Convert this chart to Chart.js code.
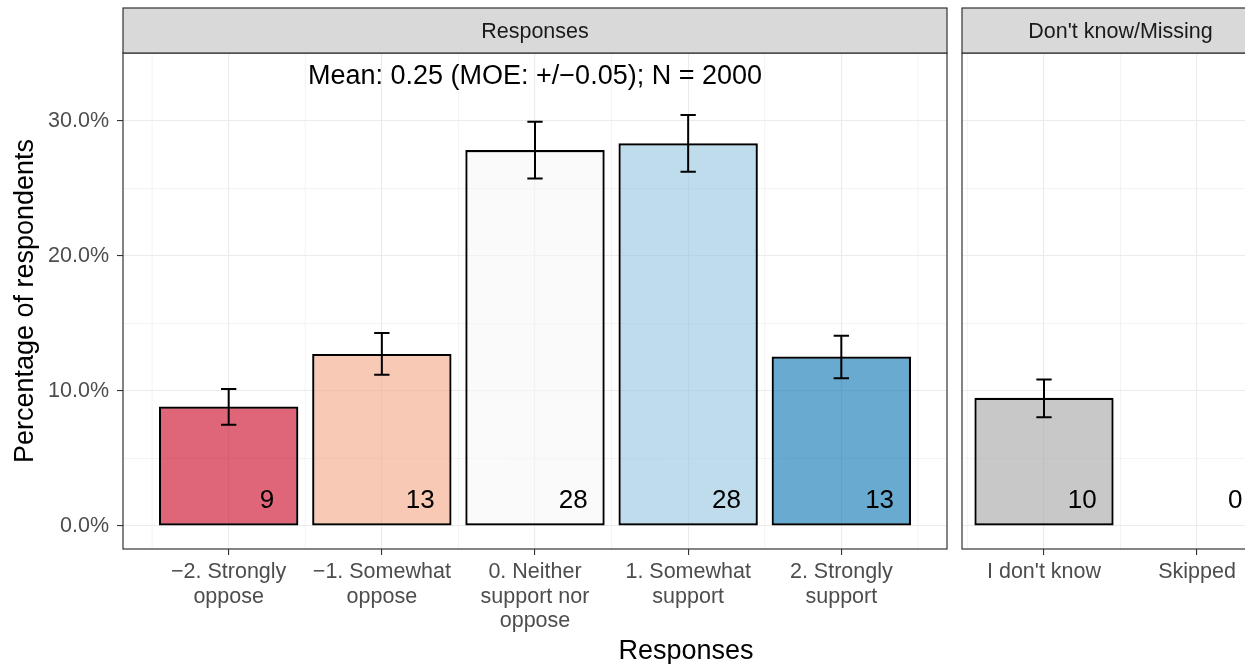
<!DOCTYPE html>
<html>
<head>
<meta charset="utf-8">
<script src="https://cdn.jsdelivr.net/npm/chart.js@4.4.1/dist/chart.umd.min.js"></script>
<style>
  html, body { margin: 0; padding: 0; background: #fff; width: 1245px; height: 664px; overflow: hidden; }
  canvas { position: absolute; top: 0; }
  #left { left: 0; }
  #right { left: 955px; }
  #xtitle { position: absolute; left: 0; width: 1372px; top: 634px; text-align: center; line-height: 32px;
            font-size: 27px; font-family: "Liberation Sans", Arial, sans-serif; color: #000; }
</style>
</head>
<body>
<canvas id="left" width="955" height="664"></canvas>
<canvas id="right" width="330" height="664"></canvas>
<div id="xtitle">Responses</div>
<script>
// values (percent of respondents)
var respLabels = [["\u22122. Strongly", "oppose"], ["\u22121. Somewhat", "oppose"],
                  ["0. Neither", "support nor", "oppose"], ["1. Somewhat", "support"], ["2. Strongly", "support"]];
var respPct   = [8.85, 12.75, 27.85, 28.35, 12.55];
var respLow   = [7.5, 11.2, 25.75, 26.25, 10.95];
var respHigh  = [10.15, 14.3, 29.95, 30.45, 14.1];
var respShown = [9, 13, 28, 28, 13];

var missLabels = ["I don't know", "Skipped"];
var missPct    = [9.5, 0];
var missLow    = [8.05, null];
var missHigh   = [10.85, null];
var missShown  = [10, 0];

var yTicks = [0, 10, 20, 30];
var meanText = "Mean: 0.25 (MOE: +/\u22120.05); N = 2000";

var respColors = ['rgba(202,0,32,0.6)', 'rgba(244,165,130,0.6)', 'rgba(247,247,247,0.6)',
                  'rgba(146,197,222,0.6)', 'rgba(5,113,176,0.6)'];
var missColors = ['rgba(163,163,163,0.6)', 'rgba(163,163,163,0.6)'];

var FONT = '"Liberation Sans", Arial, sans-serif';

const panelPlugin = {
  id: 'panel',
  beforeDatasetsDraw: (chart) => {
    // minor grid lines half way between the major ones
    const {ctx, chartArea: a, scales: {x, y}} = chart;
    ctx.save();
    ctx.strokeStyle = '#ebebeb';
    ctx.lineWidth = 0.6;
    for (let v = Math.ceil(x.min * 2) / 2; v <= x.max; v += 0.5) {
      if (Number.isInteger(v)) continue;
      const px = x.getPixelForValue(v);
      ctx.beginPath(); ctx.moveTo(px, a.top); ctx.lineTo(px, a.bottom); ctx.stroke();
    }
    for (let v = 5; v <= y.max; v += 10) {
      const py = y.getPixelForValue(v);
      ctx.beginPath(); ctx.moveTo(a.left, py); ctx.lineTo(a.right, py); ctx.stroke();
    }
    ctx.restore();
  },
  afterDatasetsDraw: (chart, args, opts) => {
    const {ctx, chartArea: a, scales: {x, y}} = chart;
    ctx.save();
    // error bars
    ctx.strokeStyle = '#000';
    ctx.lineWidth = 2;
    const cap = x.getPixelForValue(0.05) - x.getPixelForValue(0);
    opts.low.forEach((lo, i) => {
      if (lo == null) return;
      const px = x.getPixelForValue(i);
      const y1 = y.getPixelForValue(lo), y2 = y.getPixelForValue(opts.high[i]);
      ctx.beginPath();
      ctx.moveTo(px, y1); ctx.lineTo(px, y2);
      ctx.moveTo(px - cap, y1); ctx.lineTo(px + cap, y1);
      ctx.moveTo(px - cap, y2); ctx.lineTo(px + cap, y2);
      ctx.stroke();
    });
    // count labels
    ctx.fillStyle = '#000';
    ctx.font = '26px ' + FONT;
    ctx.textAlign = 'center';
    ctx.textBaseline = 'middle';
    opts.shown.forEach((s, i) => {
      ctx.fillText(String(s), x.getPixelForValue(i + 0.25), y.getPixelForValue(1.9));
    });
    if (opts.note) {
      ctx.font = '27px ' + FONT;
      ctx.fillText(opts.note, x.getPixelForValue(2), y.getPixelForValue(33.3));
    }
    ctx.restore();
  },
  afterDraw: (chart, args, opts) => {
    const {ctx, chartArea: a} = chart;
    ctx.save();
    ctx.strokeStyle = '#333';
    ctx.lineWidth = 1.2;
    ctx.strokeRect(a.left, a.top, a.right - a.left, a.bottom - a.top);
    ctx.fillStyle = '#d9d9d9';
    ctx.fillRect(a.left, 8, a.right - a.left, a.top - 8);
    ctx.strokeRect(a.left, 8, a.right - a.left, a.top - 8);
    ctx.fillStyle = '#1a1a1a';
    ctx.font = '21.5px ' + FONT;
    ctx.textAlign = 'center';
    ctx.textBaseline = 'middle';
    ctx.fillText(opts.strip, (a.left + a.right) / 2, (8 + a.top) / 2 + 2);
    ctx.restore();
  }
};

function makePanel(id, labels, pct, colors, cfg) {
  new Chart(document.getElementById(id), {
    type: 'bar',
    data: {
      datasets: [{
        data: pct.map((v, i) => ({x: i, y: v})),
        backgroundColor: colors,
        borderColor: '#000',
        borderWidth: 2.2,
        borderSkipped: false,
        barPercentage: 0.91,
        categoryPercentage: 1
      }]
    },
    options: {
      responsive: false,
      animation: false,
      events: [],
      layout: {padding: {top: 53, right: cfg.padRight, left: 0, bottom: 0}},
      plugins: {
        legend: {display: false},
        tooltip: {enabled: false},
        panel: {strip: cfg.strip, low: cfg.low, high: cfg.high, shown: cfg.shown, note: cfg.note}
      },
      scales: {
        x: {
          type: 'linear',
          offset: false,
          min: cfg.xmin, max: cfg.xmax,
          afterBuildTicks: (s) => { s.ticks = labels.map((l, i) => ({value: i})); },
          afterFit: (s) => { s.height = 115; },
          grid: {offset: false, color: '#ebebeb', lineWidth: 1.1, tickColor: '#333', tickLength: 6},
          border: {display: false},
          ticks: {
            color: '#4d4d4d', padding: 5, maxRotation: 0, autoSkip: false,
            font: {family: FONT, size: 21.5, lineHeight: 1.14},
            callback: (v) => labels[v]
          }
        },
        y: {
          min: -1.7, max: 35.04,
          afterBuildTicks: (s) => { s.ticks = yTicks.map(v => ({value: v})); },
          afterFit: (s) => { s.width = cfg.yWidth; },
          grid: {color: '#ebebeb', lineWidth: 1.1, tickColor: '#333', tickLength: 6, drawTicks: cfg.showY},
          border: {display: false},
          title: {
            display: cfg.showY, text: 'Percentage of respondents', color: '#000',
            font: {family: FONT, size: 27, lineHeight: 1.2}, padding: {top: 9, bottom: 0}
          },
          ticks: {
            display: cfg.showY, color: '#4d4d4d', padding: 8,
            font: {family: FONT, size: 21.5},
            callback: (v) => v.toFixed(1) + '%'
          }
        }
      }
    },
    plugins: [panelPlugin]
  });
}

makePanel('left', respLabels, respPct, respColors, {
  strip: 'Responses', low: respLow, high: respHigh, shown: respShown, note: meanText,
  xmin: -0.69, xmax: 4.69, padRight: 8, yWidth: 123, showY: true
});
makePanel('right', missLabels, missPct, missColors, {
  strip: "Don't know/Missing", low: missLow, high: missHigh, shown: missShown, note: null,
  xmin: -0.536, xmax: 1.536, padRight: 6, yWidth: 7, showY: false
});
</script>
</body>
</html>
